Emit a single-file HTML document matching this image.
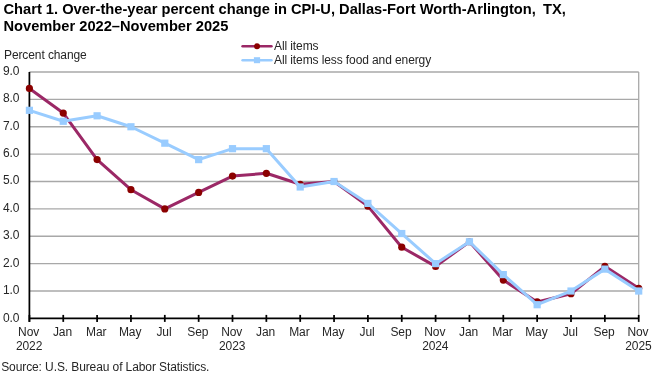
<!DOCTYPE html>
<html><head><meta charset="utf-8"><style>
html,body{margin:0;padding:0;background:#fff;width:660px;height:375px;overflow:hidden}
svg{display:block;will-change:transform}
.t{font-family:"Liberation Sans",sans-serif;font-size:12px;letter-spacing:-0.1px;fill:#262626}
.h{font-family:"Liberation Sans",sans-serif;font-size:14.67px;font-weight:bold;fill:#000}
</style></head><body>
<svg width="660" height="375" viewBox="0 0 660 375">
<line x1="29.40" y1="291.02" x2="638.70" y2="291.02" stroke="#a8a8a8" stroke-width="1.3"/>
<line x1="29.40" y1="263.64" x2="638.70" y2="263.64" stroke="#a8a8a8" stroke-width="1.3"/>
<line x1="29.40" y1="236.27" x2="638.70" y2="236.27" stroke="#a8a8a8" stroke-width="1.3"/>
<line x1="29.40" y1="208.89" x2="638.70" y2="208.89" stroke="#a8a8a8" stroke-width="1.3"/>
<line x1="29.40" y1="181.51" x2="638.70" y2="181.51" stroke="#a8a8a8" stroke-width="1.3"/>
<line x1="29.40" y1="154.13" x2="638.70" y2="154.13" stroke="#a8a8a8" stroke-width="1.3"/>
<line x1="29.40" y1="126.76" x2="638.70" y2="126.76" stroke="#a8a8a8" stroke-width="1.3"/>
<line x1="29.40" y1="99.38" x2="638.70" y2="99.38" stroke="#a8a8a8" stroke-width="1.3"/>
<line x1="29.40" y1="72.00" x2="638.70" y2="72.00" stroke="#a8a8a8" stroke-width="1.3"/>
<line x1="638.70" y1="72.00" x2="638.70" y2="318.40" stroke="#a8a8a8" stroke-width="1.3"/>
<line x1="29.40" y1="72.00" x2="29.40" y2="321.90" stroke="#000" stroke-width="1.75"/>
<line x1="29.40" y1="318.40" x2="638.70" y2="318.40" stroke="#000" stroke-width="1.75"/>
<line x1="29.40" y1="314.90" x2="29.40" y2="321.90" stroke="#000" stroke-width="1.75"/>
<line x1="63.25" y1="314.90" x2="63.25" y2="321.90" stroke="#000" stroke-width="1.75"/>
<line x1="97.10" y1="314.90" x2="97.10" y2="321.90" stroke="#000" stroke-width="1.75"/>
<line x1="130.95" y1="314.90" x2="130.95" y2="321.90" stroke="#000" stroke-width="1.75"/>
<line x1="164.80" y1="314.90" x2="164.80" y2="321.90" stroke="#000" stroke-width="1.75"/>
<line x1="198.65" y1="314.90" x2="198.65" y2="321.90" stroke="#000" stroke-width="1.75"/>
<line x1="232.50" y1="314.90" x2="232.50" y2="321.90" stroke="#000" stroke-width="1.75"/>
<line x1="266.35" y1="314.90" x2="266.35" y2="321.90" stroke="#000" stroke-width="1.75"/>
<line x1="300.20" y1="314.90" x2="300.20" y2="321.90" stroke="#000" stroke-width="1.75"/>
<line x1="334.05" y1="314.90" x2="334.05" y2="321.90" stroke="#000" stroke-width="1.75"/>
<line x1="367.90" y1="314.90" x2="367.90" y2="321.90" stroke="#000" stroke-width="1.75"/>
<line x1="401.75" y1="314.90" x2="401.75" y2="321.90" stroke="#000" stroke-width="1.75"/>
<line x1="435.60" y1="314.90" x2="435.60" y2="321.90" stroke="#000" stroke-width="1.75"/>
<line x1="469.45" y1="314.90" x2="469.45" y2="321.90" stroke="#000" stroke-width="1.75"/>
<line x1="503.30" y1="314.90" x2="503.30" y2="321.90" stroke="#000" stroke-width="1.75"/>
<line x1="537.15" y1="314.90" x2="537.15" y2="321.90" stroke="#000" stroke-width="1.75"/>
<line x1="571.00" y1="314.90" x2="571.00" y2="321.90" stroke="#000" stroke-width="1.75"/>
<line x1="604.85" y1="314.90" x2="604.85" y2="321.90" stroke="#000" stroke-width="1.75"/>
<line x1="638.70" y1="314.90" x2="638.70" y2="321.90" stroke="#000" stroke-width="1.75"/>
<text x="19.3" y="322.10" text-anchor="end" class="t">0.0</text>
<text x="19.3" y="294.22" text-anchor="end" class="t">1.0</text>
<text x="19.3" y="266.54" text-anchor="end" class="t">2.0</text>
<text x="19.3" y="239.17" text-anchor="end" class="t">3.0</text>
<text x="19.3" y="211.79" text-anchor="end" class="t">4.0</text>
<text x="19.3" y="184.41" text-anchor="end" class="t">5.0</text>
<text x="19.3" y="157.03" text-anchor="end" class="t">6.0</text>
<text x="19.3" y="129.66" text-anchor="end" class="t">7.0</text>
<text x="19.3" y="102.28" text-anchor="end" class="t">8.0</text>
<text x="19.3" y="74.90" text-anchor="end" class="t">9.0</text>
<text x="28.60" y="336" text-anchor="middle" class="t">Nov</text>
<text x="29.10" y="349.6" text-anchor="middle" class="t">2022</text>
<text x="62.45" y="336" text-anchor="middle" class="t">Jan</text>
<text x="96.30" y="336" text-anchor="middle" class="t">Mar</text>
<text x="130.15" y="336" text-anchor="middle" class="t">May</text>
<text x="164.00" y="336" text-anchor="middle" class="t">Jul</text>
<text x="197.85" y="336" text-anchor="middle" class="t">Sep</text>
<text x="231.70" y="336" text-anchor="middle" class="t">Nov</text>
<text x="232.20" y="349.6" text-anchor="middle" class="t">2023</text>
<text x="265.55" y="336" text-anchor="middle" class="t">Jan</text>
<text x="299.40" y="336" text-anchor="middle" class="t">Mar</text>
<text x="333.25" y="336" text-anchor="middle" class="t">May</text>
<text x="367.10" y="336" text-anchor="middle" class="t">Jul</text>
<text x="400.95" y="336" text-anchor="middle" class="t">Sep</text>
<text x="434.80" y="336" text-anchor="middle" class="t">Nov</text>
<text x="435.30" y="349.6" text-anchor="middle" class="t">2024</text>
<text x="468.65" y="336" text-anchor="middle" class="t">Jan</text>
<text x="502.50" y="336" text-anchor="middle" class="t">Mar</text>
<text x="536.35" y="336" text-anchor="middle" class="t">May</text>
<text x="570.20" y="336" text-anchor="middle" class="t">Jul</text>
<text x="604.05" y="336" text-anchor="middle" class="t">Sep</text>
<text x="637.90" y="336" text-anchor="middle" class="t">Nov</text>
<text x="638.40" y="349.6" text-anchor="middle" class="t">2025</text>
<polyline points="29.40,88.43 63.25,113.07 97.10,159.61 130.95,189.72 164.80,208.89 198.65,192.46 232.50,176.04 266.35,173.30 300.20,184.25 334.05,181.51 367.90,206.15 401.75,247.22 435.60,266.38 469.45,241.74 503.30,280.07 537.15,301.97 571.00,293.76 604.85,266.38 638.70,288.28" fill="none" stroke="#9b2866" stroke-width="3" stroke-linejoin="round"/>
<circle cx="29.40" cy="88.43" r="3.6" fill="#8b0000"/>
<circle cx="63.25" cy="113.07" r="3.6" fill="#8b0000"/>
<circle cx="97.10" cy="159.61" r="3.6" fill="#8b0000"/>
<circle cx="130.95" cy="189.72" r="3.6" fill="#8b0000"/>
<circle cx="164.80" cy="208.89" r="3.6" fill="#8b0000"/>
<circle cx="198.65" cy="192.46" r="3.6" fill="#8b0000"/>
<circle cx="232.50" cy="176.04" r="3.6" fill="#8b0000"/>
<circle cx="266.35" cy="173.30" r="3.6" fill="#8b0000"/>
<circle cx="300.20" cy="184.25" r="3.6" fill="#8b0000"/>
<circle cx="334.05" cy="181.51" r="3.6" fill="#8b0000"/>
<circle cx="367.90" cy="206.15" r="3.6" fill="#8b0000"/>
<circle cx="401.75" cy="247.22" r="3.6" fill="#8b0000"/>
<circle cx="435.60" cy="266.38" r="3.6" fill="#8b0000"/>
<circle cx="469.45" cy="241.74" r="3.6" fill="#8b0000"/>
<circle cx="503.30" cy="280.07" r="3.6" fill="#8b0000"/>
<circle cx="537.15" cy="301.97" r="3.6" fill="#8b0000"/>
<circle cx="571.00" cy="293.76" r="3.6" fill="#8b0000"/>
<circle cx="604.85" cy="266.38" r="3.6" fill="#8b0000"/>
<circle cx="638.70" cy="288.28" r="3.6" fill="#8b0000"/>
<polyline points="29.40,110.33 63.25,121.28 97.10,115.80 130.95,126.76 164.80,143.18 198.65,159.61 232.50,148.66 266.35,148.66 300.20,186.99 334.05,181.51 367.90,203.41 401.75,233.53 435.60,263.64 469.45,241.74 503.30,274.60 537.15,304.71 571.00,291.02 604.85,269.12 638.70,291.02" fill="none" stroke="#99ccff" stroke-width="3" stroke-linejoin="round"/>
<rect x="25.80" y="106.73" width="7.2" height="7.2" fill="#99ccff"/>
<rect x="59.65" y="117.68" width="7.2" height="7.2" fill="#99ccff"/>
<rect x="93.50" y="112.20" width="7.2" height="7.2" fill="#99ccff"/>
<rect x="127.35" y="123.16" width="7.2" height="7.2" fill="#99ccff"/>
<rect x="161.20" y="139.58" width="7.2" height="7.2" fill="#99ccff"/>
<rect x="195.05" y="156.01" width="7.2" height="7.2" fill="#99ccff"/>
<rect x="228.90" y="145.06" width="7.2" height="7.2" fill="#99ccff"/>
<rect x="262.75" y="145.06" width="7.2" height="7.2" fill="#99ccff"/>
<rect x="296.60" y="183.39" width="7.2" height="7.2" fill="#99ccff"/>
<rect x="330.45" y="177.91" width="7.2" height="7.2" fill="#99ccff"/>
<rect x="364.30" y="199.81" width="7.2" height="7.2" fill="#99ccff"/>
<rect x="398.15" y="229.93" width="7.2" height="7.2" fill="#99ccff"/>
<rect x="432.00" y="260.04" width="7.2" height="7.2" fill="#99ccff"/>
<rect x="465.85" y="238.14" width="7.2" height="7.2" fill="#99ccff"/>
<rect x="499.70" y="271.00" width="7.2" height="7.2" fill="#99ccff"/>
<rect x="533.55" y="301.11" width="7.2" height="7.2" fill="#99ccff"/>
<rect x="567.40" y="287.42" width="7.2" height="7.2" fill="#99ccff"/>
<rect x="601.25" y="265.52" width="7.2" height="7.2" fill="#99ccff"/>
<rect x="635.10" y="287.42" width="7.2" height="7.2" fill="#99ccff"/>
<line x1="242.6" y1="46.3" x2="271.4" y2="46.3" stroke="#9b2866" stroke-width="2.6" stroke-linecap="round"/>
<circle cx="257" cy="46.3" r="3" fill="#8b0000"/>
<text x="274" y="49.8" class="t">All items</text>
<line x1="242.6" y1="60.3" x2="271.4" y2="60.3" stroke="#99ccff" stroke-width="2.6" stroke-linecap="round"/>
<rect x="253.9" y="57.2" width="6.2" height="6.0" fill="#99ccff"/>
<text x="274" y="64.4" class="t">All items less food and energy</text>
<text x="4" y="58.6" class="t">Percent change</text>
<text x="1.2" y="371.3" class="t">Source: U.S. Bureau of Labor Statistics.</text>
<text x="3.5" y="14.4" class="h">Chart 1. Over-the-year percent change in CPI-U, Dallas-Fort Worth-Arlington,</text>
<text x="543" y="14.4" class="h">TX,</text>
<text x="3.5" y="30.9" class="h">November 2022&#8211;November 2025</text>
</svg>
</body></html>
